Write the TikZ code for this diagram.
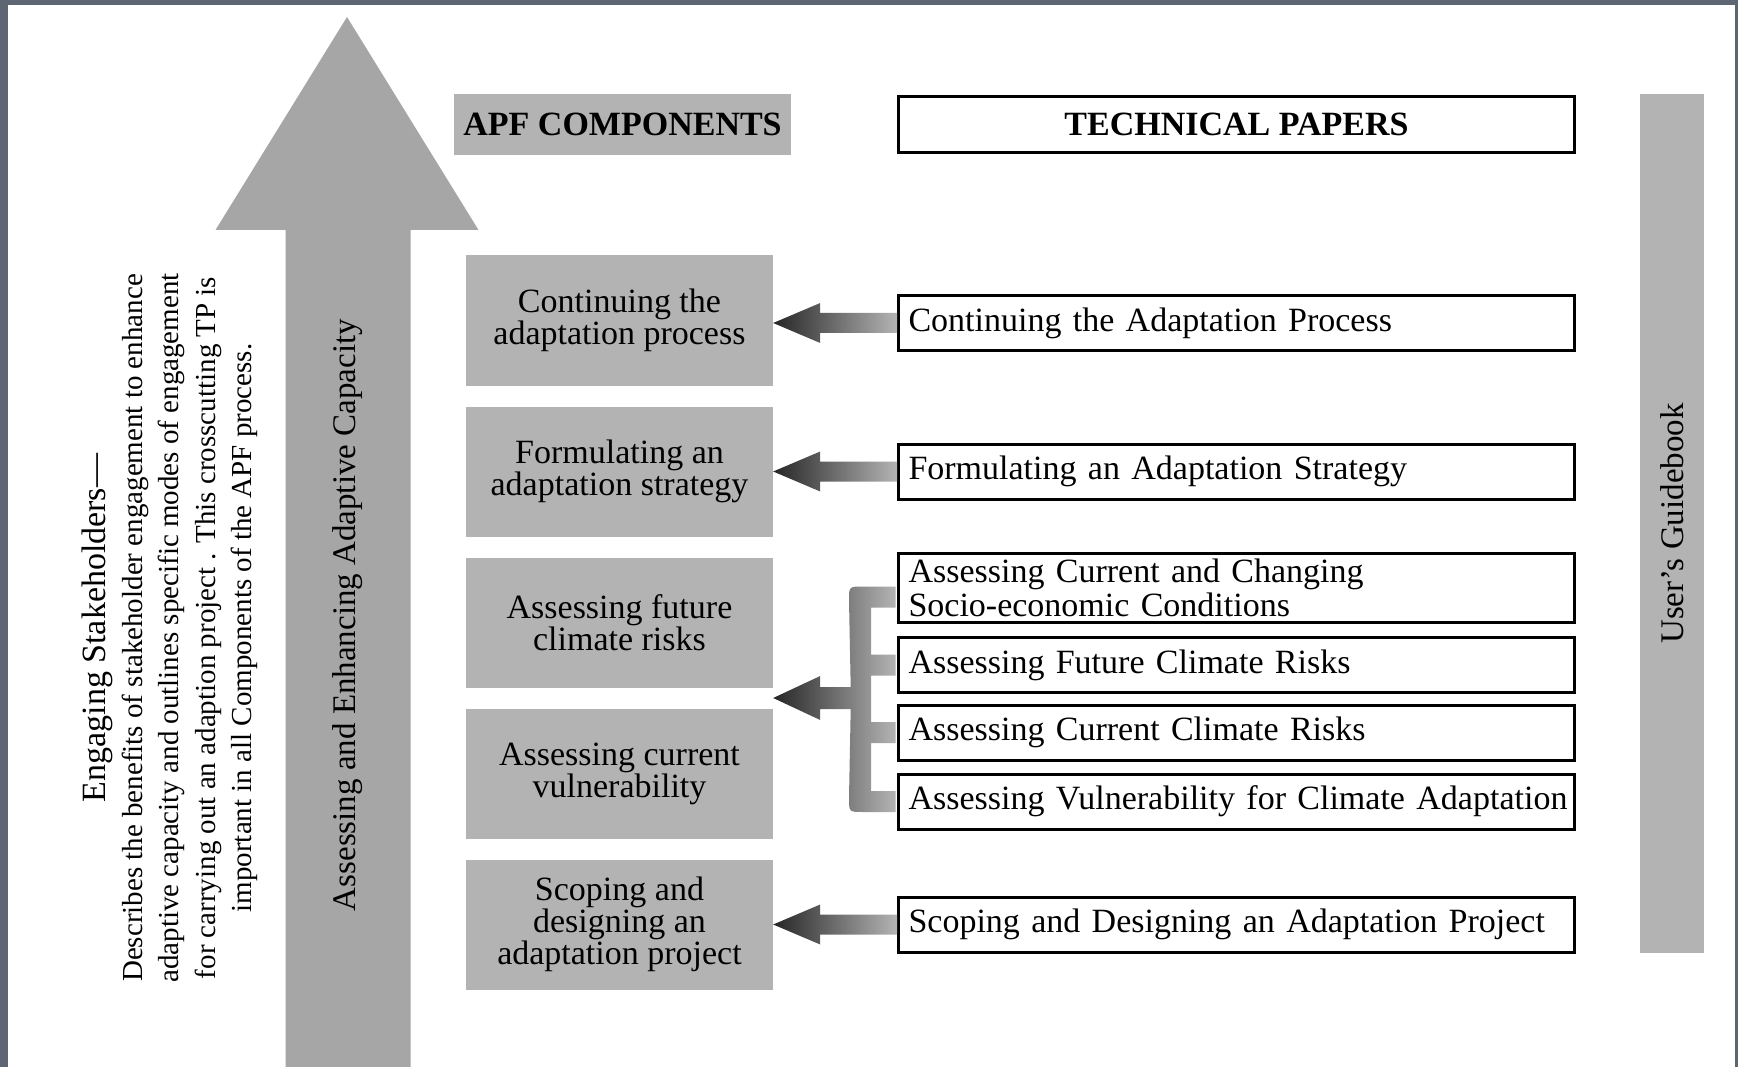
\documentclass[tikz,border=0pt]{standalone}
\usepackage{fontspec}
\setmainfont{Liberation Serif}
\usetikzlibrary{calc,positioning}
\definecolor{boxgray}{HTML}{B3B3B3}
\definecolor{bigarrow}{HTML}{A6A6A6}
\definecolor{tipdark}{HTML}{262626}
\definecolor{taillight}{HTML}{B4B4B4}
\definecolor{slate}{HTML}{5E6573}

\begin{document}
\begin{tikzpicture}[x=1pt, y=-1pt, node distance=151pt,
        comp/.style = {fill=boxgray, minimum width=307, minimum height=130, inner sep=0, align=center, font=\fontsize{34}{32}\selectfont},
        paper/.style = {draw, line width=3pt, minimum width=676, minimum height=55, text width=656, inner xsep=10, inner ysep=0, align=left, font=\fontsize{34}{34}\selectfont},
        fat/.style = {left color=tipdark, right color=taillight}]
            \useasboundingbox (0,0) rectangle (1738,1067);
            \fill[slate] (0,0) rectangle (1738,1067);
            \fill[white] (8,5) rectangle (1735,1067);
            \fill[bigarrow] (347,17) -- (478.5,230) -- (410.5,230) -- (410.5,1067) -- (285.5,1067) -- (285.5,230) -- (215.5,230) -- cycle;
            \node[rotate=90, font=\fontsize{33}{33}\selectfont] (aeac) at (348,615) {Assessing and Enhancing Adaptive Capacity};
            \node[rotate=90, align=center, font=\fontsize{29}{36.5}\selectfont] (es) at (170,628) {{\fontsize{34}{36.5}\selectfont Engaging Stakeholders—}\\
                Describes the benefits of stakeholder engagement to enhance\\
                adaptive capacity and outlines specific modes of engagement\\
                for carrying out an adaption project . This crosscutting TP is\\
                important in all Components of the APF process.};
            \node[fill=boxgray, minimum width=337, minimum height=61, font=\fontsize{34}{34}\selectfont\bfseries] (apf) at (622.5,124.5) {APF COMPONENTS};
            \node[draw, line width=3pt, minimum width=676, minimum height=56, font=\fontsize{34}{34}\selectfont\bfseries] (tp) at (1236.5,124.5) {TECHNICAL PAPERS};
            \node[fill=boxgray, rotate=90, minimum width=859, minimum height=64, font=\fontsize{33}{33}\selectfont] (ug) at (1672,523.5) {User's Guidebook};
            \node[comp] (c1) at (619.5,320.5) {Continuing the\\adaptation process};
            \node[comp] (c2) [below of = c1] {Formulating an\\adaptation strategy};
            \node[comp] (c3) [below of = c2] {Assessing future\\climate risks};
            \node[comp] (c4) [below of = c3] {Assessing current\\vulnerability};
            \node[comp] (c5) [below of = c4] {Scoping and\\designing an\\adaptation project};
            \node[paper] (p1) at (1236.5,323) {Continuing the Adaptation Process};
            \node[paper] (p2) at (1236.5,471.5) {Formulating an Adaptation Strategy};
            \node[paper, minimum height=69] (p3) at (1236.5,588) {Assessing Current and Changing\\Socio-economic Conditions};
            \node[paper] (p4) at (1236.5,665) {Assessing Future Climate Risks};
            \node[paper] (p5) at (1236.5,732.5) {Assessing Current Climate Risks};
            \node[paper] (p6) at (1236.5,801.5) {\mbox{Assessing Vulnerability for Climate Adaptation}};
            \node[paper] (p7) at (1236.5,924.5) {Scoping and Designing an Adaptation Project};
            \path[fat] (c1.east |- p1.west) -- ++(47,-20) -- ++(0,10) -- ++(77,0) -- ++(0,20) -- ++(-77,0) -- ++(0,10) -- cycle;
            \path[fat] (c2.east |- p2.west) -- ++(47,-20) -- ++(0,10) -- ++(77,0) -- ++(0,20) -- ++(-77,0) -- ++(0,10) -- cycle;
            \path[fat] (c5.east |- p7.west) -- ++(47,-20) -- ++(0,10) -- ++(77,0) -- ++(0,20) -- ++(-77,0) -- ++(0,10) -- cycle;
            \coordinate (t) at ($(c3.south east)!0.5!(c4.north east)$);
            \path[fat] (t) -- ++(47,-22) -- ++(0,11) -- ++(30.5,0)
                -- ($(p3.west)+(-48,12.5)$) .. controls ($(p3.west)+(-48,-1.5)$) .. ($(p3.west)+(-34,-1.5)$)
                -- ($(p3.west)+(-1.5,-1.5)$) -- ($(p3.west)+(-1.5,19.5)$) -- ($(p3.west)+(-26,19.5)$)
                -- ($(p4.west)+(-26,-10.5)$) -- ($(p4.west)+(-1.5,-10.5)$) -- ($(p4.west)+(-1.5,10.5)$) -- ($(p4.west)+(-26,10.5)$)
                -- ($(p5.west)+(-26,-10.5)$) -- ($(p5.west)+(-1.5,-10.5)$) -- ($(p5.west)+(-1.5,10.5)$) -- ($(p5.west)+(-26,10.5)$)
                -- ($(p6.west)+(-26,-10.5)$) -- ($(p6.west)+(-1.5,-10.5)$) -- ($(p6.west)+(-1.5,10.5)$) -- ($(p6.west)+(-34,10.5)$)
                .. controls ($(p6.west)+(-48,10.5)$) .. ($(p6.west)+(-48,-3.5)$)
                -- ($(t)+(77.5,11)$) -- ($(t)+(47,11)$) -- ($(t)+(47,22)$) -- cycle;
        \end{tikzpicture}
\end{document}
